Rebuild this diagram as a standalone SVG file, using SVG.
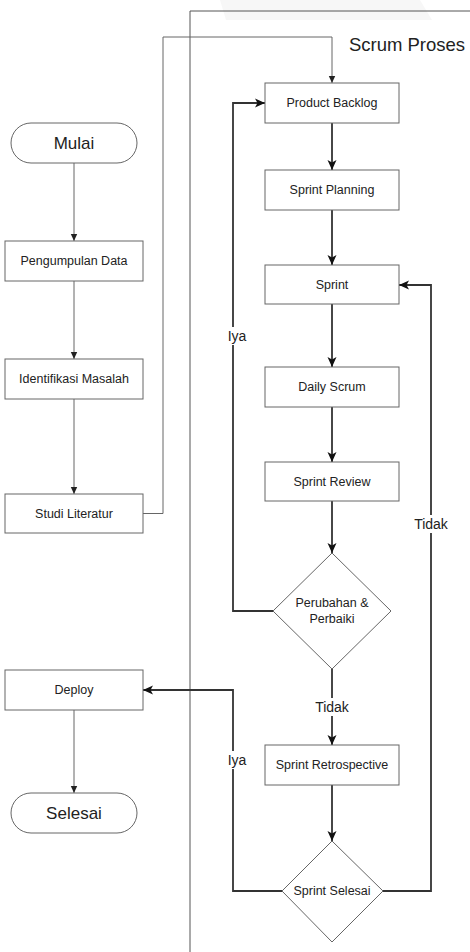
<svg xmlns="http://www.w3.org/2000/svg" width="470" height="952" viewBox="0 0 470 952">
  <style>
    .box { fill: #ffffff; stroke: #666666; stroke-width: 1; }
    .lbl { font-family: "Liberation Sans", Arial, Helvetica, sans-serif; fill: #222222; text-anchor: middle; dominant-baseline: central; }
    .small { font-size: 12.5px; }
    .term { font-size: 17px; }
    .edge-label { font-size: 14px; }
    .thin { fill: none; stroke: #666666; stroke-width: 1; }
    .thick { fill: none; stroke: #333333; stroke-width: 1.8; }
  </style>
  <defs>
    <marker id="arrowSmall" markerUnits="userSpaceOnUse" markerWidth="8" markerHeight="8" viewBox="0 0 8 8" refX="7" refY="4" orient="auto">
      <path d="M0,0.8 L7,4 L0,7.2 Z" fill="#222222"/>
    </marker>
    <marker id="arrowBig" markerUnits="userSpaceOnUse" markerWidth="11" markerHeight="10" viewBox="0 0 11 10" refX="10" refY="5" orient="auto">
      <path d="M0,0.5 L10,5 L0,9.5 L2.5,5 Z" fill="#111111"/>
    </marker>
  </defs>

  <rect width="470" height="952" fill="#ffffff"/>
  <!-- faint backdrop band at the top edge -->
  <polygon points="220,0 420,0 432,20 226,20" fill="#f7f7f7"/>

  <!-- Scrum process container -->
  <g id="scrum-container">
    <path d="M190,952 L190,11 L470,11" fill="none" stroke="#555555" stroke-width="1"/>
    <text class="lbl" x="407" y="44" style="font-size:18.5px">Scrum Proses</text>
  </g>

  <!-- connectors -->
  <g id="connectors">
    <line class="thin" x1="74" y1="163" x2="74" y2="241" marker-end="url(#arrowSmall)"/>
    <line class="thin" x1="74" y1="281" x2="74" y2="359" marker-end="url(#arrowSmall)"/>
    <line class="thin" x1="74" y1="399" x2="74" y2="494" marker-end="url(#arrowSmall)"/>
    <polyline class="thin" points="143,513.5 163,513.5 163,37 332,37 332,83" marker-end="url(#arrowSmall)"/>
    <line class="thin" x1="74" y1="710" x2="74" y2="793" marker-end="url(#arrowSmall)"/>

    <line class="thick" x1="332" y1="123" x2="332" y2="170" marker-end="url(#arrowBig)"/>
    <line class="thick" x1="332" y1="210" x2="332" y2="265" marker-end="url(#arrowBig)"/>
    <line class="thick" x1="332" y1="304" x2="332" y2="367" marker-end="url(#arrowBig)"/>
    <line class="thick" x1="332" y1="407" x2="332" y2="462" marker-end="url(#arrowBig)"/>
    <line class="thick" x1="332" y1="501" x2="332" y2="553" marker-end="url(#arrowBig)"/>
    <polyline class="thick" points="273,611 233,611 233,103 265,103" marker-end="url(#arrowBig)"/>
    <line class="thick" x1="332" y1="669" x2="332" y2="745" marker-end="url(#arrowBig)"/>
    <line class="thick" x1="332" y1="785" x2="332" y2="841" marker-end="url(#arrowBig)"/>
    <polyline class="thick" points="383,891 431,891 431,285 399,285" marker-end="url(#arrowBig)"/>
    <polyline class="thick" points="282,891 233,891 233,690 143,690" marker-end="url(#arrowBig)"/>

    <!-- edge labels -->
    <rect x="225" y="327" width="24" height="18" fill="#ffffff"/>
    <text class="lbl edge-label" x="237" y="336">Iya</text>
    <rect x="410" y="515" width="42" height="18" fill="#ffffff"/>
    <text class="lbl edge-label" x="431" y="524">Tidak</text>
    <rect x="311" y="698" width="42" height="18" fill="#ffffff"/>
    <text class="lbl edge-label" x="332" y="707">Tidak</text>
    <rect x="225" y="751" width="24" height="18" fill="#ffffff"/>
    <text class="lbl edge-label" x="237" y="760">Iya</text>
  </g>

  <!-- left column -->
  <g id="mulai">
    <rect class="box" x="11" y="123" width="126" height="40" rx="20" ry="20"/>
    <text class="lbl term" x="74" y="143">Mulai</text>
  </g>
  <g id="pengumpulan-data">
    <rect class="box" x="5" y="241" width="138" height="40"/>
    <text class="lbl small" x="74" y="261">Pengumpulan Data</text>
  </g>
  <g id="identifikasi-masalah">
    <rect class="box" x="5" y="359" width="138" height="40"/>
    <text class="lbl small" x="74" y="379">Identifikasi Masalah</text>
  </g>
  <g id="studi-literatur">
    <rect class="box" x="5" y="494" width="138" height="39"/>
    <text class="lbl small" x="74" y="513.5">Studi Literatur</text>
  </g>
  <g id="deploy">
    <rect class="box" x="5" y="670" width="138" height="40"/>
    <text class="lbl small" x="74" y="690">Deploy</text>
  </g>
  <g id="selesai">
    <rect class="box" x="11" y="793" width="126" height="40" rx="20" ry="20"/>
    <text class="lbl term" x="74" y="813">Selesai</text>
  </g>

  <!-- scrum column -->
  <g id="product-backlog">
    <rect class="box" x="265" y="83" width="134" height="40"/>
    <text class="lbl small" x="332" y="103">Product Backlog</text>
  </g>
  <g id="sprint-planning">
    <rect class="box" x="265" y="170" width="134" height="40"/>
    <text class="lbl small" x="332" y="190">Sprint Planning</text>
  </g>
  <g id="sprint">
    <rect class="box" x="265" y="265" width="134" height="39"/>
    <text class="lbl small" x="332" y="284.5">Sprint</text>
  </g>
  <g id="daily-scrum">
    <rect class="box" x="265" y="367" width="134" height="40"/>
    <text class="lbl small" x="332" y="387">Daily Scrum</text>
  </g>
  <g id="sprint-review">
    <rect class="box" x="265" y="462" width="134" height="39"/>
    <text class="lbl small" x="332" y="481.5">Sprint Review</text>
  </g>
  <g id="perubahan-perbaiki">
    <polygon class="box" points="332,553 391,611 332,669 273,611"/>
    <text class="lbl small" x="332" y="603">Perubahan &amp;</text>
    <text class="lbl small" x="332" y="619">Perbaiki</text>
  </g>
  <g id="sprint-retrospective">
    <rect class="box" x="265" y="745" width="134" height="40"/>
    <text class="lbl small" x="332" y="765">Sprint Retrospective</text>
  </g>
  <g id="sprint-selesai">
    <polygon class="box" points="332,841 383,891 332,942 282,891"/>
    <text class="lbl small" x="332" y="891">Sprint Selesai</text>
  </g>
</svg>
